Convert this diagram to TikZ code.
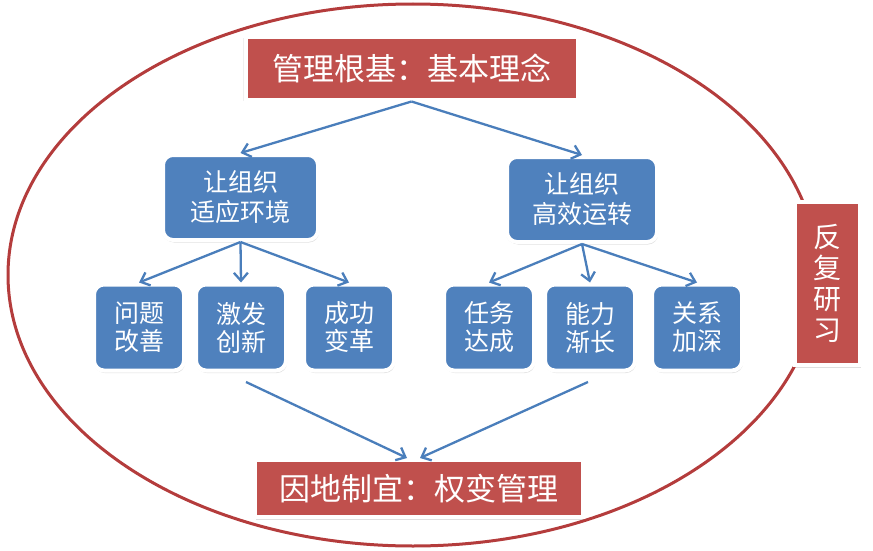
\documentclass[tikz,border=0pt]{standalone}
\usepackage{fontspec}
\setmainfont{Noto Sans CJK SC}
\usetikzlibrary{arrows.meta,shadows}
\definecolor{boxred}{RGB}{192,80,77}
\definecolor{boxblue}{RGB}{79,129,189}
\definecolor{ringred}{RGB}{180,60,60}
\definecolor{linkblue}{RGB}{74,126,187}
\tikzset{softshadow/.style={drop shadow={opacity=0.25,shadow xshift=1pt,shadow yshift=-2.5pt},
                            drop shadow={opacity=0.12,shadow xshift=0pt,shadow yshift=-1pt,shadow scale=1.015}},
         titlebox/.style={rectangle,fill=boxred,draw=white,line width=4pt,text=white,
                          softshadow,font=\fontsize{31}{34}\selectfont},
         groupbox/.style={rectangle,rounded corners=10pt,fill=boxblue,draw=white,line width=4pt,
                          text=white,align=center,softshadow,font=\fontsize{25}{30}\selectfont},
         leafbox/.style={groupbox,minimum width=90pt,minimum height=86pt,font=\fontsize{25}{28}\selectfont},
         link/.style={draw=linkblue,line width=2.3pt,-{Straight Barb[length=8pt,width=14pt]}}}

\begin{document}
\begin{tikzpicture}[x=1pt,y=-1pt]
  \useasboundingbox (0,0) rectangle (873,551);
  \draw[ringred,line width=3pt] (413,275) ellipse [x radius=405,y radius=271];

  \node[titlebox,minimum width=332pt,minimum height=62pt] (top) at (411.5,68.5) {管理根基：基本理念};
  \node[titlebox,minimum width=328pt,minimum height=57pt] (bot) at (419,488.5) {因地制宜：权变管理};
  \node[titlebox,minimum width=65pt,minimum height=163pt,align=center,
        font=\fontsize{28}{31}\selectfont] (side) at (827.5,283.5) {反\\复\\研\\习};

  \node[groupbox,minimum width=155pt,minimum height=85pt] (lmid) at (240.5,197.5) {让组织\\适应环境};
  \node[groupbox,minimum width=150pt,minimum height=85pt] (rmid) at (582,199.5) {让组织\\高效运转};

  \node[leafbox] (l1) at (139,327.5) {问题\\改善};
  \node[leafbox] (l2) at (241,327.5) {激发\\创新};
  \node[leafbox] (l3) at (349,327.5) {成功\\变革};
  \node[leafbox] (r1) at (489,327.5) {任务\\达成};
  \node[leafbox] (r2) at (590,327.5) {能力\\渐长};
  \node[leafbox] (r3) at (697,327.5) {关系\\加深};

  \coordinate (lfoot) at (246,382);
  \coordinate (rfoot) at (588,382);

  \draw[link] (top.south) -- (lmid.north);
  \draw[link] (top.south) -- (rmid.north);
  \foreach \leaf in {l1,l2,l3}
    \draw[link] (lmid.south) -- (\leaf.north);
  \foreach \leaf in {r1,r2,r3}
    \draw[link] (rmid.south) -- (\leaf.north);
  \draw[link] (lfoot) -- ([xshift=-12pt]bot.north);
  \draw[link] (rfoot) -- ([xshift=1pt]bot.north);
\end{tikzpicture}
\end{document}
